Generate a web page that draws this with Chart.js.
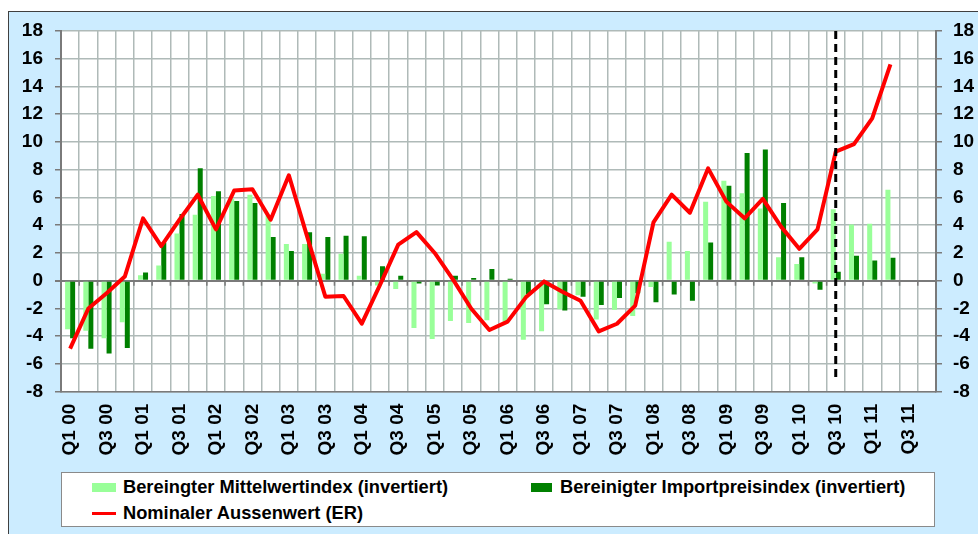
<!DOCTYPE html>
<html>
<head>
<meta charset="utf-8">
<script src="https://cdn.jsdelivr.net/npm/chart.js@4.4.1/dist/chart.umd.min.js"></script>
<style>
  body { margin: 0; background: #fff; font-family: "Liberation Sans", Arial, sans-serif; }
  #panel { position: absolute; left: 8px; top: 11px; width: 980px; height: 540px; background: #CCECFF;
           border-left: 1.5px solid #404040; border-top: 1.5px solid #404040; }
  #myChart { position: absolute; left: 0; top: 0; }
  #legend { position: absolute; left: 61px; top: 472px; width: 874px; height: 55px; background: #fff;
            border: 1.5px solid #8a8a8a; box-sizing: border-box; }
  .sw { position: absolute; }
  .lt { position: absolute; height: 22px; line-height: 22px; font-weight: bold; font-size: 18.3px; color: #000; white-space: nowrap; }
</style>
</head>
<body>
<div id="panel"></div>
<canvas id="myChart" width="978" height="534"></canvas>
<div id="legend"></div>
<div class="sw" style="left:92px;top:483px;width:24px;height:9px;background:#99FF99"></div>
<div class="lt" style="left:123px;top:476px">Bereingter Mittelwertindex (invertiert)</div>
<div class="sw" style="left:531px;top:483px;width:21px;height:9px;background:#008000"></div>
<div class="lt" style="left:560px;top:476px">Bereinigter Importpreisindex (invertiert)</div>
<div class="sw" style="left:92px;top:512px;width:24px;height:3px;background:#FF0000"></div>
<div class="lt" style="left:123px;top:502px">Nominaler Aussenwert (ER)</div>

<script>
// quarters Q1 00 .. Q4 11
const quarters = [
  "Q1 00", "Q2 00", "Q3 00", "Q4 00", "Q1 01", "Q2 01", "Q3 01", "Q4 01",
  "Q1 02", "Q2 02", "Q3 02", "Q4 02", "Q1 03", "Q2 03", "Q3 03", "Q4 03",
  "Q1 04", "Q2 04", "Q3 04", "Q4 04", "Q1 05", "Q2 05", "Q3 05", "Q4 05",
  "Q1 06", "Q2 06", "Q3 06", "Q4 06", "Q1 07", "Q2 07", "Q3 07", "Q4 07",
  "Q1 08", "Q2 08", "Q3 08", "Q4 08", "Q1 09", "Q2 09", "Q3 09", "Q4 09",
  "Q1 10", "Q2 10", "Q3 10", "Q4 10", "Q1 11", "Q2 11", "Q3 11", "Q4 11"
];

// Bereingter Mittelwertindex (invertiert)
const mittelwert = [
  -3.5, -3.6, -4.15, -3.0, 0.4, 1.1, 3.4, 4.75, 6.1, 5.9, 6.2, 4.7,
  2.65, 2.65, 0.5, 1.95, 0.35, -0.35, -0.6, -3.4, -4.2, -2.9, -3.05, -2.85,
  -2.95, -4.25, -3.65, -2.05, -1.05, -2.8, -2.1, -2.55, -0.45, 2.8, 2.15, 5.7,
  7.2, 6.3, 5.2, 1.7, 1.2, -0.2, 5.15, 4.05, 4.1, 6.55
];

// Bereinigter Importpreisindex (invertiert)
const importpreis = [
  -4.15, -4.9, -5.25, -4.85, 0.6, 2.75, 4.8, 8.1, 6.45, 5.75, 5.6, 3.15,
  2.15, 3.5, 3.15, 3.25, 3.2, 1.05, 0.35, -0.2, -0.35, 0.35, 0.2, 0.85,
  0.15, -0.95, -1.7, -2.15, -1.15, -1.75, -1.25, -0.9, -1.55, -1.0, -1.45, 2.75,
  6.85, 9.2, 9.45, 5.6, 1.7, -0.65, 0.65, 1.8, 1.45, 1.65
];

// Nominaler Aussenwert (ER)
const aussenwert = [
  -4.9, -2.0, -0.9, 0.3, 4.5, 2.5, 4.4, 6.2, 3.7, 6.5, 6.6, 4.4,
  7.6, 3.2, -1.15, -1.1, -3.1, -0.3, 2.6, 3.5, 2.0, 0.1, -2.0, -3.55,
  -2.95, -1.2, -0.05, -0.8, -1.45, -3.65, -3.1, -1.8, 4.2, 6.2, 4.9, 8.1,
  5.7, 4.5, 5.9, 3.9, 2.3, 3.7, 9.3, 9.85, 11.7, 15.6
];

const yMin = -8, yMax = 18, yStep = 2;
// dashed marker at Q3 10
const markerQuarter = "Q3 10";
const markerTop = 18, markerBottom = -7.2;

const tickFont = { family: "'Liberation Sans', Arial, sans-serif", size: 19, weight: 'bold' };
const gridColor = '#AFBAB8';
const axisColor = '#7a7a7a';

const plotBackground = {
  id: 'plotBackground',
  beforeDraw(chart) {
    const a = chart.chartArea, ctx = chart.ctx;
    ctx.save();
    ctx.fillStyle = '#fff';
    ctx.fillRect(a.left, a.top, a.right - a.left, a.bottom - a.top);
    ctx.restore();
  }
};

const axisMarks = {
  id: 'axisMarks',
  beforeDatasetsDraw(chart) {
    // small ticks under the zero line at category borders
    const x = chart.scales.x, y = chart.scales.y, ctx = chart.ctx;
    const y0 = y.getPixelForValue(0);
    const half = (x.getPixelForValue(1) - x.getPixelForValue(0)) / 2;
    ctx.save();
    ctx.strokeStyle = axisColor;
    ctx.lineWidth = 1.5;
    ctx.beginPath();
    for (let i = 0; i <= quarters.length; i++) {
      const px = x.getPixelForValue(0) - half + i * half * 2;
      ctx.moveTo(px, y0);
      ctx.lineTo(px, y0 + 5);
    }
    ctx.stroke();
    ctx.restore();
  },
  afterDatasetsDraw(chart) {
    const x = chart.scales.x, y = chart.scales.y, ctx = chart.ctx;
    const px = x.getPixelForValue(quarters.indexOf(markerQuarter));
    ctx.save();
    ctx.strokeStyle = '#000';
    ctx.lineWidth = 3;
    ctx.setLineDash([8, 5]);
    ctx.beginPath();
    ctx.moveTo(px, y.getPixelForValue(markerTop));
    ctx.lineTo(px, y.getPixelForValue(markerBottom));
    ctx.stroke();
    ctx.restore();
  }
};

const data = {
  labels: quarters,
  datasets: [
    {
      label: 'Bereingter Mittelwertindex (invertiert)',
      data: mittelwert,
      backgroundColor: '#99FF99',
      categoryPercentage: 0.55,
      barPercentage: 1.0,
      order: 1
    },
    {
      label: 'Bereinigter Importpreisindex (invertiert)',
      data: importpreis,
      backgroundColor: '#008000',
      categoryPercentage: 0.55,
      barPercentage: 1.0,
      order: 1
    },
    {
      type: 'line',
      label: 'Nominaler Aussenwert (ER)',
      data: aussenwert,
      borderColor: '#FF0000',
      borderWidth: 4,
      pointRadius: 0,
      tension: 0,
      borderJoinStyle: 'round',
      order: 0
    }
  ]
};

const yTicks = { stepSize: yStep, font: tickFont, color: '#000', padding: 12 };

const config = {
  type: 'bar',
  data: data,
  options: {
    responsive: false,
    animation: false,
    layout: { padding: { top: 31, bottom: 74, left: 0, right: 0 } },
    plugins: { legend: { display: false }, tooltip: { enabled: false } },
    scales: {
      x: {
        offset: true,
        grid: { offset: true, color: gridColor, lineWidth: 1.5, drawTicks: false },
        border: { color: axisColor, width: 1.5 },
        ticks: {
          autoSkip: false, maxRotation: 90, minRotation: 90, padding: 12,
          font: tickFont, color: '#000',
          callback: function (val, i) { return i % 2 === 0 ? quarters[i] : ''; }
        },
        afterFit: function (s) { s.height = 68.3; }
      },
      y: {
        position: 'left',
        min: yMin, max: yMax,
        ticks: yTicks,
        grid: {
          color: c => c.tick && c.tick.value === 0 ? axisColor : gridColor,
          lineWidth: c => c.tick && c.tick.value === 0 ? 2 : 1.5,
          tickLength: 6, tickColor: axisColor
        },
        border: { color: axisColor, width: 2 },
        afterFit: function (s) { s.width = 61; }
      },
      y2: {
        position: 'right',
        min: yMin, max: yMax,
        ticks: { stepSize: yStep, font: tickFont, color: '#000', padding: 11 },
        grid: { drawOnChartArea: false, tickLength: 6, tickColor: axisColor, lineWidth: 1.5 },
        border: { color: axisColor, width: 2 },
        afterFit: function (s) { s.width = 42; }
      }
    }
  },
  plugins: [plotBackground, axisMarks]
};

const myChart = new Chart(document.getElementById('myChart'), config);
</script>
</body>
</html>
